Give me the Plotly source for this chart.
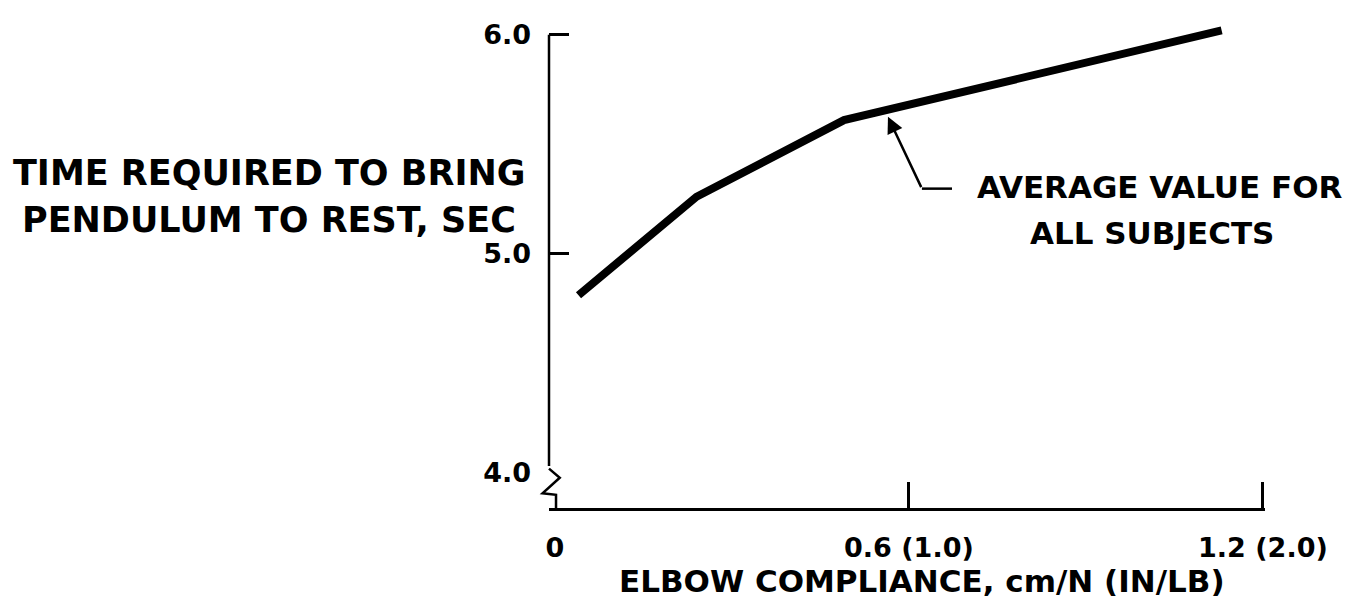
import plotly.graph_objects as go

# ---- data ----
compliance = [0.04, 0.24, 0.49, 1.13]          # cm/N
time_to_rest = [4.81, 5.26, 5.61, 6.02]        # sec

x_tickvals = [0, 0.6, 1.2]
x_ticktext = ["0", "0.6 (1.0)", "1.2 (2.0)"]
y_tickvals = [4.0, 5.0, 6.0]
y_ticktext = ["4.0", "5.0", "6.0"]

y_title_lines = ["TIME REQUIRED TO BRING", "PENDULUM TO REST, SEC"]
x_title = "ELBOW COMPLIANCE, cm/N (IN/LB)"
note_lines = ["AVERAGE VALUE FOR", "ALL SUBJECTS"]

# ---- style / layout constants ----
FONT = dict(family="DejaVu Sans", color="black", weight="bold")
X_RANGE = [-0.01, 1.2035]
Y_RANGE = [3.838, 6.04]
AXW = 2.5

fig = go.Figure()
fig.add_trace(go.Scatter(
    x=compliance, y=time_to_rest, mode="lines",
    line=dict(color="black", width=8), showlegend=False, hoverinfo="skip"))

fig.update_layout(
    width=1356, height=600,
    margin=dict(l=541, r=99, t=11, b=100),
    paper_bgcolor="white", plot_bgcolor="white",
    font=FONT,
    xaxis=dict(range=X_RANGE, showgrid=False, zeroline=False,
               showline=True, linecolor="black", linewidth=AXW,
               tickvals=x_tickvals, ticktext=x_ticktext,
               ticks="inside", ticklen=26, tickwidth=AXW, tickcolor="black",
               ticklabelstandoff=14,
               tickfont=dict(size=27, **FONT)),
    yaxis=dict(range=Y_RANGE, showgrid=False, zeroline=False,
               showline=False,
               tickvals=y_tickvals, ticktext=y_ticktext,
               ticks="inside", ticklen=20, tickwidth=AXW, tickcolor="black",
               ticklabelstandoff=17,
               tickfont=dict(size=27, **FONT)),
)

# y-axis line (top part, ending at 6.0)
fig.add_shape(type="line", xref="paper", yref="y", x0=0, x1=0, y0=4.018, y1=6.0,
              line=dict(color="black", width=AXW), layer="above")
# white patches hiding the tick at the axis break and the x-axis stub
fig.add_shape(type="rect", xref="paper", yref="y", x0=-0.02, x1=0.04, y0=3.846, y1=4.03,
              fillcolor="white", line=dict(width=0), layer="above")
fig.add_shape(type="rect", xref="paper", yref="y", x0=-0.02, x1=0.0095, y0=3.82, y1=3.85,
              fillcolor="white", line=dict(width=0), layer="above")
# axis break zigzag
fig.add_shape(type="path", xref="paper", yref="y",
              path="M 0,4.018 L 0.015,3.976 L -0.009,3.905 L 0.0098,3.898 L 0.0098,3.838",
              line=dict(color="black", width=AXW), layer="above")

# y title (horizontal, two lines)
for txt, yy in zip(y_title_lines, [0.694, 0.598]):
    fig.add_annotation(text=txt, xref="paper", yref="paper", x=-0.391, y=yy,
                       xanchor="center", yanchor="middle", showarrow=False,
                       font=dict(size=35, **FONT))
# x title
fig.add_annotation(text=x_title, xref="paper", yref="paper", x=0.521, y=-0.151,
                   xanchor="center", yanchor="middle", showarrow=False,
                   font=dict(size=31, **FONT))
# leader note
for txt, xx, yy in zip(note_lines, [0.853, 0.842], [0.665, 0.571]):
    fig.add_annotation(text=txt, xref="paper", yref="paper", x=xx, y=yy,
                       xanchor="center", yanchor="middle", showarrow=False,
                       font=dict(size=31, **FONT))
fig.add_shape(type="line", xref="x", yref="y", x0=0.622, x1=0.673, y0=5.297, y1=5.297,
              line=dict(color="black", width=2.5))
fig.add_annotation(text="", x=0.5645, y=5.625, ax=0.622, ay=5.297, axref="x", ayref="y",
                   showarrow=True, arrowhead=2, arrowsize=1.3, arrowwidth=2.5,
                   arrowcolor="black")

fig.write_html("out.html")
